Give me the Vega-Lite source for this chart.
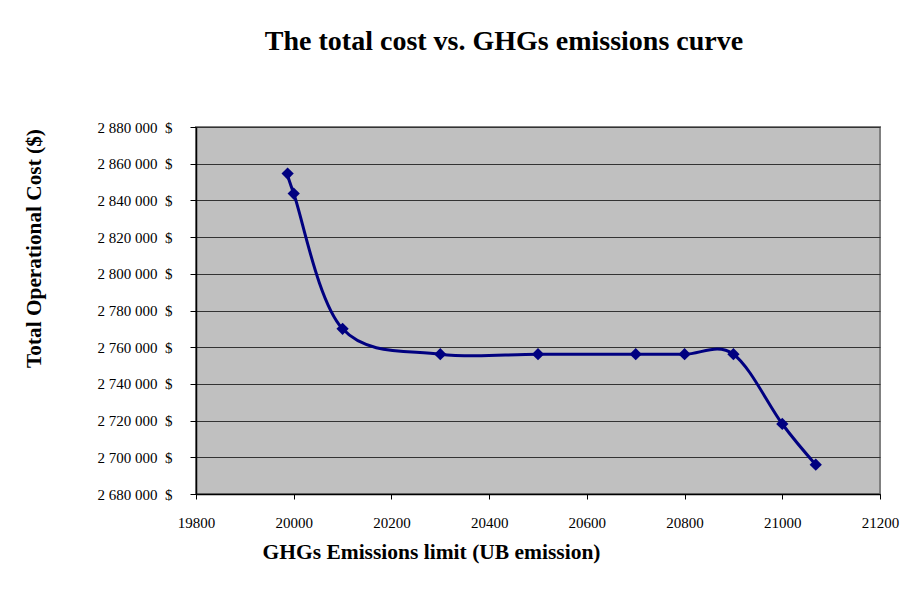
{
  "$schema": "https://vega.github.io/schema/vega-lite/v6.json",
  "autosize": "none",
  "width": 684,
  "height": 367,
  "padding": {"left": 196, "top": 127, "right": 39, "bottom": 112},
  "background": "white",
  "config": {
    "font": "Liberation Serif",
    "view": {"fill": "#C0C0C0", "stroke": "#808080", "strokeWidth": 2},
    "locale": {
      "number": {"decimal": ".", "thousands": " ", "grouping": [3], "currency": ["", "\u00a0\u00a0$"]}
    }
  },
  "title": {
    "text": "The total cost vs. GHGs emissions curve",
    "font": "Liberation Serif",
    "fontSize": 28,
    "fontWeight": "bold",
    "color": "black",
    "anchor": "middle",
    "frame": "group",
    "dx": -34,
    "offset": 64
  },
  "data": {
    "values": [
      {"limit": 19987.5, "cost": 2854600},
      {"limit": 20000, "cost": 2843700},
      {"limit": 20100, "cost": 2770000},
      {"limit": 20300, "cost": 2756200},
      {"limit": 20500, "cost": 2756200},
      {"limit": 20700, "cost": 2756200},
      {"limit": 20800, "cost": 2756200},
      {"limit": 20900, "cost": 2756200},
      {"limit": 21000, "cost": 2718150},
      {"limit": 21068.5, "cost": 2696000}
    ]
  },
  "encoding": {
    "x": {
      "field": "limit",
      "type": "quantitative",
      "scale": {"domain": [19800, 21200], "nice": false, "zero": false},
      "axis": {
        "title": "GHGs Emissions limit (UB emission)",
        "titleFont": "Liberation Serif",
        "titleFontSize": 21.5,
        "titleFontWeight": "bold",
        "titleColor": "black",
        "titleAnchor": null,
        "titleX": 235,
        "titleY": 58,
        "titleAlign": "center",
        "titleBaseline": "middle",
        "values": [19800, 20000, 20200, 20400, 20600, 20800, 21000, 21200],
        "format": "d",
        "labelFont": "Liberation Serif",
        "labelFontSize": 15,
        "labelColor": "black",
        "labelPadding": 16,
        "labelFlush": false,
        "tickColor": "black",
        "tickSize": 5,
        "domainColor": "black",
        "domainWidth": 1.5,
        "grid": false
      }
    },
    "y": {
      "field": "cost",
      "type": "quantitative",
      "scale": {"domain": [2680000, 2880000], "nice": false, "zero": false},
      "axis": {
        "title": "Total Operational Cost ($)",
        "titleFont": "Liberation Serif",
        "titleFontSize": 21.3,
        "titleFontWeight": "bold",
        "titleColor": "black",
        "titleAnchor": null,
        "titleX": -162,
        "titleY": 121,
        "titleAngle": -90,
        "titleAlign": "center",
        "titleBaseline": "middle",
        "values": [2680000, 2700000, 2720000, 2740000, 2760000, 2780000, 2800000, 2820000, 2840000, 2860000, 2880000],
        "format": "$,d",
        "labelFont": "Liberation Serif",
        "labelFontSize": 15,
        "labelColor": "black",
        "labelPadding": 18,
        "labelFlush": false,
        "tickColor": "black",
        "tickSize": 6,
        "domainColor": "black",
        "domainWidth": 1.5,
        "grid": true,
        "gridColor": "#333333",
        "gridWidth": 1
      }
    }
  },
  "layer": [
    {
      "mark": {"type": "line", "interpolate": "cardinal", "color": "#000080", "strokeWidth": 3}
    },
    {
      "mark": {"type": "point", "shape": "diamond", "filled": true, "color": "#000080", "opacity": 1, "size": 150}
    }
  ]
}
